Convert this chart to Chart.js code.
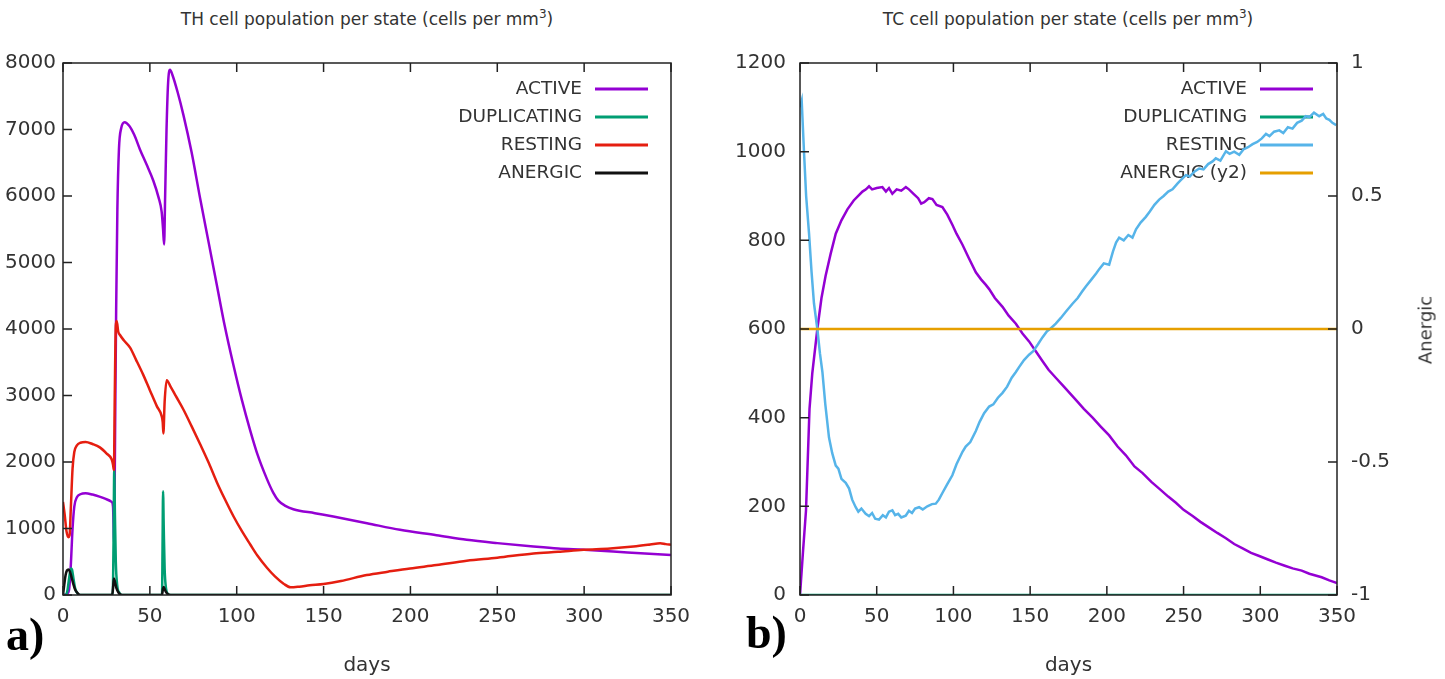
<!DOCTYPE html>
<html>
<head>
<meta charset="utf-8">
<title>TH / TC cell population per state</title>
<script src="https://cdn.jsdelivr.net/npm/chart.js@4.4.0/dist/chart.umd.min.js"></script>
<style>
  body { margin: 0; background: #fff; width: 1445px; height: 679px; overflow: hidden; position: relative;
         font-family: "DejaVu Sans", sans-serif; color: #333; }
  canvas { position: absolute; top: 0; }
  #thChart { left: 0; }
  #tcChart { left: 720px; }
  .title { position: absolute; top: 7px; font-size: 17px; white-space: nowrap; transform: translateX(-50%); }
  .title sup { font-size: 12px; }
  .panel { position: absolute; font-family: "Liberation Serif", serif; font-weight: bold; font-size: 46px; color: #000; }
  .y2title { position: absolute; left: 1425px; top: 330px; font-size: 18px; white-space: nowrap;
             transform: translate(-50%, -50%) rotate(-90deg); }
</style>
</head>
<body>
<div class="title" style="left:367px">TH cell population per state (cells per mm<sup>3</sup>)</div>
<div class="title" style="left:1068px">TC cell population per state (cells per mm<sup>3</sup>)</div>
<canvas id="thChart" width="720" height="679"></canvas>
<canvas id="tcChart" width="725" height="679"></canvas>
<div class="panel" style="left:6px; top:608px">a)</div>
<div class="panel" style="left:746px; top:606px">b)</div>
<div class="y2title">Anergic</div>
<script>
// ---- TH cells (panel a) ----
const thActiveDays = [0, 2, 3.5, 4.5, 5.5, 6.5, 8, 10, 13, 17, 21, 25, 28, 28.8, 29.4, 30, 30.6, 31.3, 32.2, 33.5, 35.5, 38, 41, 44.3, 48, 52, 55, 56.8, 57.6, 58.2, 58.8, 59.6, 60.5, 61.6, 63, 66, 69.3, 74, 78.9, 84, 88.5, 93, 98, 103, 107.7, 112, 117.3, 121, 124, 128, 132.6, 145, 155.6, 175, 194, 215, 232.4, 250, 270.8, 285, 300, 325, 350];
const thActive = [0, 10, 80, 450, 1000, 1330, 1470, 1515, 1530, 1510, 1480, 1440, 1400, 1330, 800, 2500, 4300, 5800, 6700, 7020, 7110, 7060, 6920, 6700, 6480, 6230, 5980, 5760, 5500, 5270, 6000, 7000, 7700, 7900, 7820, 7560, 7220, 6660, 5970, 5280, 4670, 4060, 3470, 2930, 2480, 2110, 1750, 1540, 1420, 1340, 1290, 1230, 1180, 1080, 980, 900, 830, 780, 730, 700, 680, 640, 600];

const thDupDays = [0, 1.5, 2.5, 3.5, 4.5, 5.2, 6, 7, 8.5, 10, 28.6, 29.1, 29.5, 29.9, 30.4, 31.2, 32.5, 34, 57, 57.3, 57.6, 58, 58.5, 59.3, 60.5, 62, 350];
const thDup = [0, 0, 60, 250, 400, 380, 250, 100, 20, 0, 0, 800, 1880, 1200, 500, 150, 30, 0, 0, 700, 1560, 1000, 400, 100, 15, 0, 0];

const thRestDays = [0, 1, 2, 3, 3.8, 4.5, 5.5, 6.5, 8, 10, 13, 17, 21.2, 25, 28, 28.8, 29.3, 29.8, 30.4, 30.9, 31.8, 32.8, 35, 38.6, 42, 46.2, 50, 54, 56.8, 57.4, 57.8, 58.5, 59.7, 62, 65, 69.3, 74, 78.9, 84, 88.5, 93, 98.2, 103, 107.8, 112, 117.4, 122, 127, 131, 136, 142, 150, 160, 174.8, 187, 199.8, 215, 232.4, 250, 270.8, 285, 299.6, 315, 328.4, 338, 343.8, 347, 350];
const thRest = [1400, 1200, 960, 870, 900, 1300, 1900, 2150, 2250, 2290, 2300, 2270, 2220, 2130, 2040, 1960, 1880, 3000, 4050, 4120, 3960, 3910, 3830, 3720, 3540, 3310, 3080, 2840, 2690, 2600, 2430, 2900, 3230, 3130, 2990, 2790, 2540, 2270, 1980, 1700, 1450, 1180, 960, 760, 590, 410, 280, 170, 115, 125, 145, 165, 210, 300, 350, 400, 450, 515, 560, 625, 650, 680, 700, 730, 760, 780, 765, 755];

const thAnergDays = [0, 0.7, 1.5, 2.3, 3.2, 4, 5, 6, 7, 8.5, 10, 28.3, 28.8, 29.3, 29.9, 30.8, 32, 34, 57, 57.5, 58, 58.8, 60, 62, 350];
const thAnerg = [0, 150, 300, 370, 385, 350, 260, 160, 80, 25, 0, 0, 100, 250, 200, 100, 35, 0, 0, 90, 120, 70, 20, 0, 0];

// ---- TC cells (panel b) ----
const tcActiveDays = [0, 2, 3.9, 6.2, 8, 11.3, 14, 16.7, 20, 23.3, 27, 30.9, 35, 40.7, 43, 45, 47, 50, 53.7, 56, 58, 60.2, 63, 66, 69, 71, 74, 77, 79, 81, 84, 86.3, 89, 92.8, 96, 99.3, 102, 105.9, 110, 114.6, 118, 121, 123.3, 127, 132, 136, 140.7, 145, 149.3, 154, 158, 162, 166.7, 172, 179.8, 185, 190.7, 196, 201.5, 207, 212.4, 218, 223.3, 229, 234.1, 240, 245, 250, 255.9, 261, 266.7, 272, 277.6, 283, 288.5, 294, 299.3, 305, 310.2, 316, 321.1, 327, 332, 340, 345, 350];
const tcActive = [0, 100, 190, 420, 500, 600, 670, 720, 770, 815, 845, 870, 890, 910, 915, 922, 915, 918, 920, 910, 918, 905, 915, 912, 920, 915, 905, 895, 883, 886, 895, 893, 880, 875, 858, 835, 815, 790, 760, 728, 712, 700, 690, 670, 650, 630, 612, 590, 572, 548, 528, 508, 490, 470, 440, 420, 400, 380, 360, 335, 315, 290, 275, 255, 240, 222, 208, 192, 178, 165, 152, 140, 128, 115, 105, 95, 88, 80, 73, 66, 60, 55, 48, 40, 33, 27];

const tcDupDays = [0, 350];
const tcDup = [0, 0];

const tcRestDays = [0, 1.1, 2.6, 4, 5.9, 7.5, 9.1, 11.3, 13, 14.6, 16.5, 18.9, 21, 23.3, 25, 27, 29.8, 32, 34, 36.3, 38, 40, 42.8, 45, 47, 49, 51.5, 54, 56, 58, 60.2, 62, 64, 66, 68.9, 71, 73, 75, 77.6, 80, 83, 86, 88.5, 90.5, 92.8, 96, 99.3, 102, 105.9, 108, 111, 114.6, 117, 120, 123.3, 126, 129, 132, 135, 138, 140.7, 143, 146, 149.3, 152, 155, 158, 161, 163, 166.7, 170, 173.5, 177.6, 181, 184, 186.3, 190, 193, 195, 198, 201.5, 204, 206, 208, 211, 214, 216.7, 219, 222, 225.4, 228, 231, 234.1, 237, 240, 242.8, 246, 248, 251.5, 254, 257, 260.2, 263, 266, 268.9, 271, 274, 277.6, 280, 283, 286.3, 289, 292, 295, 298, 301, 303.7, 306, 309, 312.4, 315, 318, 321, 324, 327, 329.7, 332, 335, 338.4, 341, 343, 345, 347, 349.5];
const tcRest = [1100, 1115, 1000, 900, 815, 730, 658, 600, 545, 503, 430, 355, 320, 292, 285, 262, 253, 240, 215, 198, 188, 195, 183, 178, 185, 172, 170, 180, 175, 188, 191, 180, 183, 175, 179, 190, 185, 195, 198, 193, 200, 205, 206, 215, 230, 250, 270, 295, 323, 335, 345, 370, 390, 410, 425, 430, 445, 456, 470, 490, 503, 515, 530, 542, 550, 565, 581, 595, 600, 612, 625, 640, 657, 670, 685, 696, 712, 725, 735, 748, 745, 775, 795, 806, 800, 812, 806, 825, 840, 853, 865, 880, 892, 900, 910, 915, 928, 935, 947, 944, 955, 962, 960, 972, 978, 985, 980, 1001, 995, 1000, 993, 1005, 1010, 1017, 1022, 1030, 1040, 1035, 1045, 1048, 1042, 1055, 1052, 1065, 1070, 1080, 1078, 1088, 1080, 1085, 1075, 1072, 1065, 1060];

const tcAnergDays = [0, 350];
const tcAnerg = [0, 0];

const xTickStep = 50;

function pts(xs, ys) {
    return xs.map((x, i) => ({ x: x, y: ys[i] }));
}

const textColor = '#333';
const tickFont = { family: 'DejaVu Sans', size: 20 };

// gnuplot style: frame round the plot with inward tick marks
const framePlugin = {
    id: 'frame',
    afterDatasetsDraw(chart) {
        const ctx = chart.ctx;
        const a = chart.chartArea;
        const len = 9;
        ctx.save();
        ctx.strokeStyle = '#222';
        ctx.lineWidth = 1.5;
        ctx.beginPath();
        const xs = chart.scales.x;
        xs.ticks.forEach(t => {
            const px = xs.getPixelForValue(t.value);
            ctx.moveTo(px, a.bottom); ctx.lineTo(px, a.bottom - len);
            ctx.moveTo(px, a.top); ctx.lineTo(px, a.top + len);
        });
        const ys = chart.scales.y;
        ys.ticks.forEach(t => {
            const py = ys.getPixelForValue(t.value);
            ctx.moveTo(a.left, py); ctx.lineTo(a.left + len, py);
        });
        if (chart.scales.y2) {
            const y2 = chart.scales.y2;
            y2.ticks.forEach(t => {
                const py = y2.getPixelForValue(t.value);
                ctx.moveTo(a.right, py); ctx.lineTo(a.right - len, py);
            });
        }
        ctx.stroke();
        ctx.strokeRect(a.left, a.top, a.right - a.left, a.bottom - a.top);
        ctx.restore();
    }
};

// key in the top right corner, text right-aligned, sample line after it
const keyPlugin = {
    id: 'key',
    beforeDatasetsDraw(chart, args, opts) {
        const ctx = chart.ctx;
        const a = chart.chartArea;
        const lineEnd = a.right - opts.offset;
        const lineStart = lineEnd - 53;
        ctx.save();
        ctx.font = '18.5px "DejaVu Sans"';
        ctx.textAlign = 'right';
        ctx.textBaseline = 'middle';
        chart.data.datasets.forEach((ds, i) => {
            const y = a.top + 26 + i * 28;
            ctx.fillStyle = textColor;
            ctx.fillText(ds.label, lineStart - 13, y);
            ctx.strokeStyle = ds.borderColor;
            ctx.lineWidth = 3;
            ctx.beginPath();
            ctx.moveTo(lineStart, y);
            ctx.lineTo(lineEnd, y);
            ctx.stroke();
        });
        ctx.restore();
    }
};

function line(label, data, color, order, extra) {
    return Object.assign({
        label: label,
        data: data,
        borderColor: color,
        borderWidth: 2.5,
        pointRadius: 0,
        fill: false,
        order: order
    }, extra || {});
}

function xAxis() {
    return {
        type: 'linear', min: 0, max: 350,
        ticks: { stepSize: xTickStep, padding: 10, font: tickFont, color: textColor, maxRotation: 0 },
        grid: { display: false, drawTicks: false },
        border: { display: false },
        title: { display: true, text: 'days', color: textColor, font: { family: 'DejaVu Sans', size: 20 }, padding: { top: 0, bottom: 1 } },
        afterFit: s => { s.height = 84; }
    };
}

const smooth = { cubicInterpolationMode: 'monotone' };

new Chart(document.getElementById('thChart'), {
    type: 'line',
    data: {
        datasets: [
            line('ACTIVE', pts(thActiveDays, thActive), '#9400d3', 4, smooth),
            line('DUPLICATING', pts(thDupDays, thDup), '#009e73', 3, smooth),
            line('RESTING', pts(thRestDays, thRest), '#e51e10', 2, smooth),
            line('ANERGIC', pts(thAnergDays, thAnerg), '#111111', 1, smooth)
        ]
    },
    options: {
        responsive: false,
        animation: false,
        layout: { padding: { top: 63, right: 49, left: 0, bottom: 0 } },
        plugins: { legend: { display: false }, tooltip: { enabled: false }, key: { offset: 23 } },
        scales: {
            x: xAxis(),
            y: {
                min: 0, max: 8000,
                ticks: { stepSize: 1000, padding: 7, font: tickFont, color: textColor, callback: v => String(v) },
                grid: { display: false, drawTicks: false },
                border: { display: false },
                afterFit: s => { s.width = 63; }
            }
        }
    },
    plugins: [keyPlugin, framePlugin]
});

new Chart(document.getElementById('tcChart'), {
    type: 'line',
    data: {
        datasets: [
            line('ACTIVE', pts(tcActiveDays, tcActive), '#9400d3', 4),
            line('DUPLICATING', pts(tcDupDays, tcDup), '#009e73', 3),
            line('RESTING', pts(tcRestDays, tcRest), '#56b4e9', 2),
            line('ANERGIC (y2)', pts(tcAnergDays, tcAnerg), '#e69f00', 1, { yAxisID: 'y2' })
        ]
    },
    options: {
        responsive: false,
        animation: false,
        layout: { padding: { top: 63, right: 0, left: 0, bottom: 0 } },
        plugins: { legend: { display: false }, tooltip: { enabled: false }, key: { offset: 24 } },
        scales: {
            x: xAxis(),
            y: {
                min: 0, max: 1200,
                ticks: { stepSize: 200, padding: 14, font: tickFont, color: textColor, callback: v => String(v) },
                grid: { display: false, drawTicks: false },
                border: { display: false },
                afterFit: s => { s.width = 80; }
            },
            y2: {
                position: 'right',
                min: -1, max: 1,
                ticks: { stepSize: 0.5, padding: 14, font: tickFont, color: textColor, callback: v => String(v) },
                grid: { display: false, drawTicks: false },
                border: { display: false },
                afterFit: s => { s.width = 108; }
            }
        }
    },
    plugins: [keyPlugin, framePlugin]
});
</script>
</body>
</html>
